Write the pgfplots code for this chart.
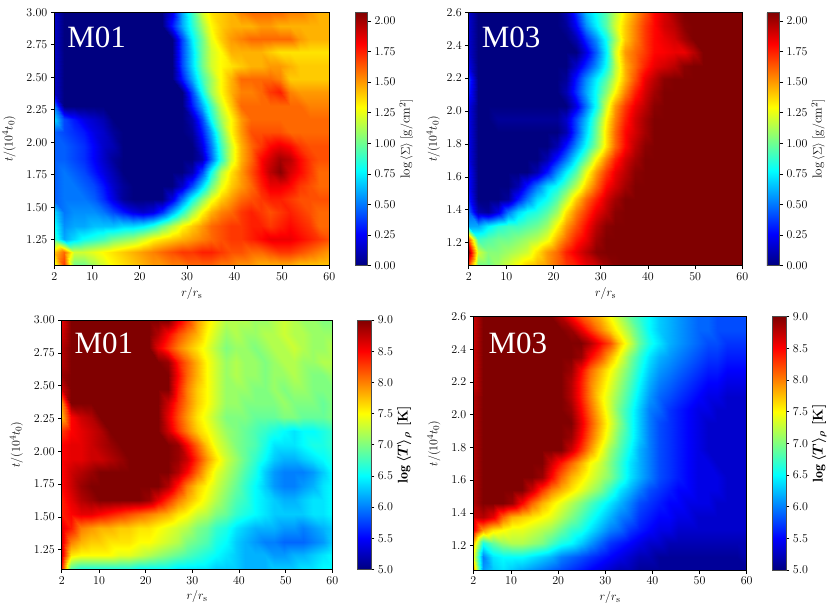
\documentclass[border=0pt]{standalone}
\usepackage{fontspec}
\newfontfamily\tnr{Liberation Serif}
\usepackage{pgfplots}
\pgfplotsset{compat=1.18}
\newcommand\tfont{\fontsize{13}{15}\selectfont}
\tikzset{lab/.style={anchor=base west, inner sep=0pt, text=white, font=\tnr\fontsize{31}{31}\selectfont}}
\pgfplotsset{
  hm/.style={
    scale only axis, enlargelimits=false, axis on top,
    anchor=north west,
    xmin=2, xmax=60, xtick={2,10,20,30,40,50,60},
    tick align=outside, tick pos=left,
    major tick length=3.5pt,
    tick style={black, line width=0.6pt},
    axis line style={line width=0.6pt},
    tick label style={font=\tfont},
    label style={font=\tfont},
    xlabel={$r/r_\mathrm{s}$},
    ylabel={$t/(10^4t_0)$},
    colormap/jet,
    colorbar,
    colorbar style={scale only axis, at={(parent axis.north east)}, anchor=north west,
      tick align=outside, ytick pos=right, major tick length=3.5pt,
      tick style={black, line width=0.6pt},
      axis line style={line width=0.5pt, black!70},
      ylabel shift=-3pt,
      yticklabel style={font=\tfont}},
  },
  sig/.style={point meta min=0, point meta max=2.07,
    colorbar style={ytick={0,0.25,0.5,0.75,1,1.25,1.5,1.75,2},
      yticklabel style={/pgf/number format/.cd, fixed, fixed zerofill, precision=2},
      ylabel={$\log\,\langle\Sigma\rangle\;[\mathrm{g/cm^2}]$},
      ylabel style={font=\tfont}}},
  tem/.style={point meta min=5, point meta max=9,
    colorbar style={ytick={5,5.5,6,6.5,7,7.5,8,8.5,9},
      yticklabel style={/pgf/number format/.cd, fixed, fixed zerofill, precision=1},
      ylabel={$\log\,\langle T\rangle_\rho$ [K]},
      ylabel style={font=\fontsize{14}{16}\selectfont\bfseries\boldmath}}},
}
\begin{document}
\begin{tikzpicture}
\useasboundingbox (0,0) rectangle (830pt,614pt);
% ---------- top left: M01 Sigma
\begin{axis}[hm, sig, at={(54.3pt,601.7pt)}, width=275pt, height=253.4pt,
  ymin=1.05, ymax=3, ytick={1.25,1.5,1.75,2,2.25,2.5,2.75,3}, ylabel shift=4pt,
  yticklabel style={/pgf/number format/.cd, fixed, fixed zerofill, precision=2},
  colorbar style={width=12.3pt, xshift=17.4pt}]
\addplot[surf, shader=interp, mesh/cols=29, point meta=explicit] table[row sep=\\, header=false,
  x expr={2+58/28*mod(\coordindex,29)}, y expr={1.05+1.95/19*floor((\coordindex+0.5)/29)}, meta index=0] {
1.2\\1.7\\1.0\\1.0\\1.1\\1.2\\1.3\\1.35\\1.4\\1.45\\1.5\\1.5\\1.55\\1.55\\1.6\\1.6\\1.6\\1.55\\1.55\\1.5\\1.5\\1.45\\1.45\\1.45\\1.45\\1.4\\1.4\\1.4\\1.4\\
1.4\\1.6\\1.2\\1.2\\1.25\\1.3\\1.35\\1.4\\1.45\\1.5\\1.55\\1.6\\1.65\\1.7\\1.7\\1.75\\1.75\\1.7\\1.65\\1.65\\1.6\\1.6\\1.65\\1.7\\1.7\\1.65\\1.6\\1.55\\1.5\\
0.9\\0.6\\0.7\\0.8\\0.85\\0.9\\1.0\\1.05\\1.1\\1.2\\1.3\\1.35\\1.4\\1.45\\1.5\\1.55\\1.6\\1.65\\1.7\\1.7\\1.75\\1.8\\1.85\\1.85\\1.85\\1.8\\1.75\\1.7\\1.65\\
0.8\\0.55\\0.6\\0.6\\0.65\\0.65\\0.65\\0.7\\0.7\\0.75\\0.85\\1.0\\1.15\\1.3\\1.4\\1.5\\1.6\\1.65\\1.7\\1.7\\1.75\\1.75\\1.7\\1.75\\1.8\\1.75\\1.7\\1.6\\1.6\\
0.7\\0.5\\0.55\\0.55\\0.55\\0.5\\0.4\\0.3\\0.2\\0.15\\0.2\\0.35\\0.6\\0.85\\1.1\\1.3\\1.45\\1.55\\1.6\\1.7\\1.75\\1.7\\1.65\\1.7\\1.75\\1.7\\1.65\\1.6\\1.6\\
0.45\\0.5\\0.5\\0.5\\0.45\\0.35\\0.2\\0.05\\0\\0\\0\\0\\0.2\\0.5\\0.8\\1.05\\1.25\\1.4\\1.5\\1.6\\1.65\\1.7\\1.75\\1.75\\1.7\\1.65\\1.65\\1.65\\1.65\\
0.45\\0.5\\0.5\\0.45\\0.4\\0.3\\0.15\\0.05\\0\\0\\0\\0\\0\\0.15\\0.4\\0.7\\1.0\\1.25\\1.4\\1.5\\1.6\\1.75\\1.85\\1.85\\1.8\\1.7\\1.65\\1.6\\1.6\\
0.45\\0.5\\0.45\\0.4\\0.3\\0.2\\0.1\\0\\0\\0\\0\\0\\0\\0\\0.1\\0.4\\0.8\\1.15\\1.35\\1.5\\1.65\\1.8\\1.95\\2.05\\1.9\\1.8\\1.7\\1.6\\1.6\\
0.45\\0.45\\0.4\\0.35\\0.25\\0.15\\0.05\\0\\0\\0\\0\\0\\0\\0\\0\\0.1\\0.45\\0.85\\1.2\\1.45\\1.6\\1.8\\1.9\\2.0\\1.95\\1.8\\1.7\\1.65\\1.65\\
0.45\\0.45\\0.4\\0.35\\0.25\\0.15\\0.1\\0\\0\\0\\0\\0\\0\\0\\0\\0.2\\0.5\\0.9\\1.2\\1.45\\1.6\\1.7\\1.8\\1.85\\1.8\\1.7\\1.65\\1.65\\1.65\\
0.45\\0.4\\0.35\\0.3\\0.2\\0.15\\0.05\\0\\0\\0\\0\\0\\0\\0\\0.05\\0.3\\0.6\\1.0\\1.3\\1.5\\1.65\\1.65\\1.65\\1.65\\1.6\\1.6\\1.6\\1.6\\1.6\\
0.7\\0.4\\0.3\\0.2\\0.15\\0.1\\0\\0\\0\\0\\0\\0\\0\\0\\0.1\\0.4\\0.8\\1.1\\1.3\\1.5\\1.6\\1.6\\1.6\\1.6\\1.6\\1.6\\1.6\\1.6\\1.6\\
0.5\\0\\0\\0\\0\\0\\0\\0\\0\\0\\0\\0\\0\\0\\0.3\\0.6\\0.9\\1.2\\1.4\\1.6\\1.6\\1.6\\1.6\\1.6\\1.6\\1.6\\1.55\\1.55\\1.55\\
0.15\\0\\0\\0\\0\\0\\0\\0\\0\\0\\0\\0\\0\\0\\0.4\\0.8\\1.1\\1.3\\1.45\\1.55\\1.55\\1.6\\1.7\\1.75\\1.55\\1.5\\1.5\\1.5\\1.5\\
0.15\\0\\0\\0\\0\\0\\0\\0\\0\\0\\0\\0\\0\\0.3\\0.6\\0.9\\1.1\\1.3\\1.45\\1.6\\1.6\\1.6\\1.6\\1.55\\1.4\\1.4\\1.4\\1.4\\1.4\\
0.15\\0\\0\\0\\0\\0\\0\\0\\0\\0\\0\\0\\0\\0.4\\0.7\\1.0\\1.2\\1.3\\1.35\\1.4\\1.45\\1.45\\1.5\\1.5\\1.45\\1.4\\1.4\\1.4\\1.4\\
0.15\\0\\0\\0\\0\\0\\0\\0\\0\\0\\0\\0\\0\\0.4\\0.7\\1.0\\1.2\\1.3\\1.45\\1.45\\1.45\\1.45\\1.4\\1.35\\1.35\\1.35\\1.35\\1.35\\1.35\\
0.15\\0\\0\\0\\0\\0\\0\\0\\0\\0\\0\\0\\0\\0.4\\0.75\\1.0\\1.25\\1.4\\1.5\\1.55\\1.6\\1.6\\1.6\\1.6\\1.6\\1.5\\1.45\\1.45\\1.45\\
0.15\\0\\0\\0\\0\\0\\0\\0\\0\\0\\0\\0\\0.3\\0.6\\0.85\\1.1\\1.3\\1.4\\1.45\\1.45\\1.45\\1.5\\1.5\\1.45\\1.45\\1.45\\1.45\\1.45\\1.45\\
0.15\\0\\0\\0\\0\\0\\0\\0\\0\\0\\0\\0\\0.2\\0.6\\0.9\\1.2\\1.35\\1.4\\1.45\\1.55\\1.6\\1.6\\1.6\\1.6\\1.55\\1.55\\1.5\\1.45\\1.45\\
};
\node[lab] at (rel axis cs:0.047,0.862) {M01};
\end{axis}
% ---------- top right: M03 Sigma
\begin{axis}[hm, sig, at={(468.7pt,601.7pt)}, width=273.6pt, height=253.4pt,
  ymin=1.06, ymax=2.6, ytick={1.2,1.4,1.6,1.8,2,2.2,2.4,2.6},
  yticklabel style={/pgf/number format/.cd, fixed, fixed zerofill, precision=1},
  colorbar style={width=12.7pt, xshift=16pt}]
\addplot[surf, shader=interp, mesh/cols=29, point meta=explicit] table[row sep=\\, header=false,
  x expr={2+58/28*mod(\coordindex,29)}, y expr={1.06+1.54/19*floor((\coordindex+0.5)/29)}, meta index=0] {
1.6\\1.0\\1.0\\1.1\\1.2\\1.3\\1.4\\1.45\\1.5\\1.6\\1.7\\1.75\\1.85\\1.9\\2.0\\2.05\\2.1\\2.1\\2.1\\2.1\\2.1\\2.1\\2.1\\2.1\\2.1\\2.1\\2.1\\2.1\\2.1\\
2.0\\1.2\\1.05\\1.05\\1.1\\1.15\\1.2\\1.35\\1.5\\1.6\\1.75\\1.85\\1.95\\2.05\\2.1\\2.1\\2.1\\2.1\\2.1\\2.1\\2.1\\2.1\\2.1\\2.1\\2.1\\2.1\\2.1\\2.1\\2.1\\
1.6\\0.9\\0.95\\1.0\\1.0\\1.05\\1.1\\1.15\\1.25\\1.45\\1.6\\1.75\\1.85\\2.0\\2.1\\2.1\\2.1\\2.1\\2.1\\2.1\\2.1\\2.1\\2.1\\2.1\\2.1\\2.1\\2.1\\2.1\\2.1\\
0.6\\0.6\\0.75\\0.85\\0.9\\0.9\\0.95\\1.0\\1.1\\1.3\\1.5\\1.65\\1.8\\1.95\\2.05\\2.1\\2.1\\2.1\\2.1\\2.1\\2.1\\2.1\\2.1\\2.1\\2.1\\2.1\\2.1\\2.1\\2.1\\
0.45\\0.1\\0.05\\0.2\\0.5\\0.7\\0.8\\0.85\\0.95\\1.1\\1.35\\1.55\\1.7\\1.85\\1.95\\2.05\\2.1\\2.1\\2.1\\2.1\\2.1\\2.1\\2.1\\2.1\\2.1\\2.1\\2.1\\2.1\\2.1\\
0.3\\0\\0\\0\\0.05\\0.3\\0.5\\0.7\\0.8\\0.95\\1.15\\1.4\\1.6\\1.75\\1.9\\2.0\\2.1\\2.1\\2.1\\2.1\\2.1\\2.1\\2.1\\2.1\\2.1\\2.1\\2.1\\2.1\\2.1\\
0.25\\0\\0\\0\\0\\0.1\\0.3\\0.5\\0.7\\0.8\\0.95\\1.15\\1.4\\1.6\\1.8\\1.9\\2.0\\2.1\\2.1\\2.1\\2.1\\2.1\\2.1\\2.1\\2.1\\2.1\\2.1\\2.1\\2.1\\
0.25\\0\\0\\0\\0\\0\\0\\0.1\\0.3\\0.55\\0.75\\0.95\\1.25\\1.5\\1.7\\1.85\\1.95\\2.05\\2.1\\2.1\\2.1\\2.1\\2.1\\2.1\\2.1\\2.1\\2.1\\2.1\\2.1\\
0.2\\0\\0\\0\\0\\0\\0\\0\\0.1\\0.3\\0.5\\0.75\\1.0\\1.3\\1.55\\1.75\\1.9\\2.0\\2.1\\2.1\\2.1\\2.1\\2.1\\2.1\\2.1\\2.1\\2.1\\2.1\\2.1\\
0.2\\0\\0\\0\\0\\0\\0\\0\\0\\0.1\\0.3\\0.55\\0.8\\1.05\\1.35\\1.6\\1.8\\1.95\\2.05\\2.1\\2.1\\2.1\\2.1\\2.1\\2.1\\2.1\\2.1\\2.1\\2.1\\
0.2\\0\\0\\0\\0\\0\\0\\0\\0\\0\\0.1\\0.4\\0.7\\1.0\\1.35\\1.6\\1.8\\1.9\\2.0\\2.1\\2.1\\2.1\\2.1\\2.1\\2.1\\2.1\\2.1\\2.1\\2.1\\
0.2\\0\\0\\0.05\\0.05\\0.05\\0.05\\0.05\\0.05\\0.05\\0.15\\0.4\\0.65\\0.95\\1.3\\1.55\\1.75\\1.9\\2.0\\2.1\\2.1\\2.1\\2.1\\2.1\\2.1\\2.1\\2.1\\2.1\\2.1\\
0.2\\0\\0\\0\\0\\0\\0\\0\\0\\0\\0\\0.2\\0.5\\0.8\\1.2\\1.5\\1.7\\1.85\\1.95\\2.05\\2.1\\2.1\\2.1\\2.1\\2.1\\2.1\\2.1\\2.1\\2.1\\
0.3\\0\\0\\0\\0\\0\\0\\0\\0\\0\\0.1\\0.35\\0.6\\0.8\\1.05\\1.3\\1.55\\1.75\\1.9\\2.0\\2.1\\2.1\\2.1\\2.1\\2.1\\2.1\\2.1\\2.1\\2.1\\
0.35\\0\\0\\0\\0\\0\\0\\0\\0\\0\\0.05\\0.3\\0.55\\0.75\\0.95\\1.2\\1.45\\1.65\\1.85\\1.95\\2.05\\2.1\\2.1\\2.1\\2.1\\2.1\\2.1\\2.1\\2.1\\
0.2\\0\\0\\0\\0\\0\\0\\0\\0\\0\\0\\0.15\\0.35\\0.55\\0.8\\1.15\\1.45\\1.6\\1.75\\1.85\\1.9\\1.95\\2.05\\2.1\\2.1\\2.1\\2.1\\2.1\\2.1\\
0.15\\0\\0\\0\\0\\0\\0\\0\\0\\0\\0\\0\\0.2\\0.45\\0.75\\1.2\\1.5\\1.6\\1.7\\1.8\\1.82\\1.85\\1.85\\1.95\\2.1\\2.1\\2.1\\2.1\\2.1\\
0.15\\0\\0\\0\\0\\0\\0\\0\\0\\0\\0\\0.1\\0.35\\0.55\\0.8\\1.1\\1.4\\1.55\\1.7\\1.8\\1.85\\1.9\\2.0\\2.1\\2.1\\2.1\\2.1\\2.1\\2.1\\
0.15\\0\\0\\0\\0\\0\\0\\0\\0\\0\\0.05\\0.25\\0.55\\0.75\\0.95\\1.2\\1.4\\1.55\\1.7\\1.8\\1.9\\1.95\\2.05\\2.1\\2.1\\2.1\\2.1\\2.1\\2.1\\
0.15\\0\\0\\0\\0\\0\\0\\0\\0\\0\\0.1\\0.35\\0.65\\0.8\\0.95\\1.15\\1.35\\1.5\\1.65\\1.8\\1.9\\2.0\\2.1\\2.1\\2.1\\2.1\\2.1\\2.1\\2.1\\
};
\node[lab] at (rel axis cs:0.047,0.862) {M03};
\end{axis}
% ---------- bottom left: M01 T
\begin{axis}[hm, tem, at={(61.7pt,294pt)}, width=270.6pt, height=249.3pt,
  ymin=1.1, ymax=3, ytick={1.25,1.5,1.75,2,2.25,2.5,2.75,3}, ylabel shift=4pt,
  yticklabel style={/pgf/number format/.cd, fixed, fixed zerofill, precision=2},
  colorbar style={width=13.3pt, xshift=16.7pt}]
\addplot[surf, shader=interp, mesh/cols=29, point meta=explicit] table[row sep=\\, header=false,
  x expr={2+58/28*mod(\coordindex,29)}, y expr={1.1+1.9/18*floor((\coordindex+0.5)/29)}, meta index=0] {
8.3\\6.8\\6.6\\6.6\\6.6\\6.6\\6.6\\6.6\\6.5\\6.5\\6.5\\6.5\\6.4\\6.4\\6.4\\6.4\\6.3\\6.3\\6.3\\6.2\\6.2\\6.2\\6.3\\6.3\\6.3\\6.4\\6.4\\6.5\\6.5\\
8.6\\7.6\\7.5\\7.5\\7.5\\7.5\\7.4\\7.4\\7.3\\7.2\\7.1\\7.0\\6.9\\6.8\\6.7\\6.6\\6.5\\6.4\\6.3\\6.2\\6.2\\6.2\\6.1\\6.1\\6.2\\6.2\\6.3\\6.4\\6.5\\
8.6\\8.0\\7.8\\7.7\\7.7\\7.6\\7.6\\7.6\\7.5\\7.5\\7.4\\7.3\\7.2\\7.0\\6.9\\6.8\\6.6\\6.5\\6.3\\6.2\\6.1\\6.0\\6.0\\5.9\\5.9\\5.9\\6.0\\6.1\\6.3\\
8.6\\8.4\\8.0\\7.9\\7.8\\7.8\\7.7\\7.7\\7.6\\7.6\\7.5\\7.4\\7.3\\7.2\\7.0\\6.9\\6.7\\6.6\\6.4\\6.3\\6.2\\6.2\\6.2\\6.1\\6.1\\6.0\\6.1\\6.2\\6.3\\
8.4\\8.5\\8.6\\8.6\\8.5\\8.4\\8.3\\8.2\\8.1\\8.0\\7.9\\7.8\\7.6\\7.5\\7.3\\7.2\\7.0\\6.9\\6.7\\6.6\\6.5\\6.4\\6.3\\6.3\\6.3\\6.3\\6.4\\6.4\\6.5\\
8.4\\8.6\\8.8\\8.9\\9\\9\\9\\9\\9\\8.9\\8.6\\8.3\\8.0\\7.8\\7.6\\7.4\\7.2\\7.0\\6.8\\6.7\\6.5\\6.4\\6.3\\6.2\\6.2\\6.3\\6.4\\6.4\\6.5\\
8.5\\8.7\\8.9\\9\\9\\9\\9\\9\\9\\9\\9\\8.8\\8.4\\8.0\\7.7\\7.5\\7.3\\7.1\\6.9\\6.7\\6.5\\6.3\\6.1\\6.0\\6.0\\6.1\\6.2\\6.4\\6.5\\
8.5\\8.7\\8.8\\8.9\\9\\9\\9\\9\\9\\9\\9\\9\\8.8\\8.5\\8.1\\7.7\\7.4\\7.2\\7.0\\6.8\\6.6\\6.3\\6.1\\6.0\\6.0\\6.0\\6.1\\6.3\\6.5\\
8.5\\8.6\\8.6\\8.7\\8.7\\8.8\\8.9\\9\\9\\9\\9\\9\\8.9\\8.7\\8.3\\7.9\\7.6\\7.3\\7.1\\6.9\\6.7\\6.5\\6.3\\6.2\\6.2\\6.3\\6.4\\6.5\\6.6\\
8.5\\8.6\\8.6\\8.7\\8.8\\8.9\\9\\9\\9\\9\\9\\9\\8.9\\8.5\\8.1\\7.7\\7.4\\7.2\\7.0\\6.9\\6.8\\6.6\\6.4\\6.4\\6.4\\6.5\\6.6\\6.6\\6.7\\
8.3\\8.5\\8.6\\8.7\\8.8\\9\\9\\9\\9\\9\\9\\8.7\\8.3\\8.0\\7.7\\7.5\\7.3\\7.1\\7.0\\6.9\\6.8\\6.7\\6.6\\6.5\\6.4\\6.5\\6.5\\6.6\\6.7\\
7.8\\8.5\\8.7\\8.8\\9\\9\\9\\9\\9\\9\\9\\8.6\\8.2\\7.9\\7.6\\7.4\\7.2\\7.0\\7.0\\7.0\\6.9\\6.9\\6.9\\7.0\\7.0\\6.9\\6.9\\6.9\\7.0\\
8.0\\9\\9\\9\\9\\9\\9\\9\\9\\9\\9\\8.7\\8.3\\8.0\\7.7\\7.5\\7.3\\7.1\\7.1\\7.0\\7.0\\7.0\\7.0\\7.1\\7.0\\7.0\\7.0\\6.9\\7.0\\
8.7\\9\\9\\9\\9\\9\\9\\9\\9\\9\\9\\9\\8.4\\8.0\\7.7\\7.5\\7.3\\7.1\\7.1\\7.1\\7.0\\7.0\\7.1\\7.0\\7.1\\7.1\\7.0\\7.0\\7.0\\
8.9\\9\\9\\9\\9\\9\\9\\9\\9\\9\\9\\9\\8.5\\8.1\\7.8\\7.5\\7.3\\7.1\\7.2\\7.1\\7.1\\7.0\\7.1\\7.1\\7.2\\7.1\\7.0\\7.0\\7.1\\
8.8\\9\\9\\9\\9\\9\\9\\9\\9\\9\\9\\8.9\\8.4\\8.1\\7.8\\7.5\\7.3\\7.1\\7.2\\7.1\\7.1\\7.0\\7.1\\7.2\\7.2\\7.1\\7.1\\7.2\\7.2\\
8.8\\9\\9\\9\\9\\9\\9\\9\\9\\9\\8.6\\8.3\\8.0\\7.8\\7.6\\7.4\\7.2\\7.0\\7.1\\7.1\\7.0\\7.1\\7.2\\7.2\\7.3\\7.2\\7.1\\7.1\\7.2\\
8.7\\9\\9\\9\\9\\9\\9\\9\\9\\9\\8.8\\8.5\\8.2\\8.0\\7.8\\7.5\\7.3\\7.1\\7.2\\7.1\\7.1\\7.2\\7.2\\7.3\\7.2\\7.2\\7.1\\7.1\\7.1\\
8.6\\9\\9\\9\\9\\9\\9\\9\\9\\9\\9\\9\\8.6\\8.3\\7.9\\7.6\\7.4\\7.2\\7.2\\7.2\\7.1\\7.1\\7.2\\7.3\\7.2\\7.1\\7.1\\7.0\\7.0\\
};
\node[lab] at (rel axis cs:0.047,0.866) {M01};
\end{axis}
% ---------- bottom right: M03 T
\begin{axis}[hm, tem, at={(473.3pt,297.3pt)}, width=273.4pt, height=253.3pt,
  ymin=1.05, ymax=2.6, ytick={1.2,1.4,1.6,1.8,2,2.2,2.4,2.6}, ylabel shift=4pt,
  yticklabel style={/pgf/number format/.cd, fixed, fixed zerofill, precision=1},
  colorbar style={width=13.3pt, xshift=17.3pt}]
\addplot[surf, shader=interp, mesh/cols=29, point meta=explicit] table[row sep=\\, header=false,
  x expr={2+58/28*mod(\coordindex,29)}, y expr={1.05+1.55/19*floor((\coordindex+0.5)/29)}, meta index=0] {
8.0\\6.1\\6.3\\6.4\\6.3\\6.2\\6.1\\6.0\\5.9\\5.8\\5.7\\5.6\\5.5\\5.4\\5.3\\5.2\\5.2\\5.1\\5.1\\5.1\\5.1\\5.1\\5.1\\5.1\\5.1\\5.1\\5.1\\5.1\\5.1\\
7.5\\6.0\\6.4\\6.5\\6.5\\6.5\\6.4\\6.3\\6.2\\6.0\\5.9\\5.8\\5.7\\5.6\\5.5\\5.4\\5.3\\5.2\\5.2\\5.1\\5.1\\5.1\\5.1\\5.1\\5.1\\5.1\\5.1\\5.1\\5.2\\
7.8\\6.6\\6.9\\7.1\\7.2\\7.2\\7.1\\7.0\\6.8\\6.6\\6.5\\6.3\\6.1\\5.9\\5.7\\5.6\\5.5\\5.4\\5.3\\5.3\\5.2\\5.2\\5.2\\5.2\\5.2\\5.2\\5.2\\5.2\\5.2\\
8.6\\7.9\\7.6\\7.5\\7.4\\7.4\\7.3\\7.2\\7.1\\6.9\\6.7\\6.6\\6.4\\6.2\\6.0\\5.9\\5.7\\5.6\\5.5\\5.4\\5.4\\5.3\\5.3\\5.3\\5.3\\5.3\\5.3\\5.3\\5.3\\
8.7\\8.8\\8.6\\8.1\\7.8\\7.7\\7.6\\7.5\\7.4\\7.2\\7.0\\6.8\\6.6\\6.4\\6.2\\6.0\\5.9\\5.7\\5.6\\5.5\\5.5\\5.4\\5.4\\5.3\\5.3\\5.3\\5.3\\5.3\\5.3\\
8.8\\9\\9\\9\\8.9\\8.5\\8.1\\7.8\\7.6\\7.4\\7.2\\7.0\\6.8\\6.6\\6.4\\6.2\\6.0\\5.8\\5.7\\5.6\\5.5\\5.5\\5.4\\5.4\\5.4\\5.3\\5.3\\5.3\\5.3\\
8.8\\9\\9\\9\\9\\9\\8.7\\8.3\\8.0\\7.8\\7.6\\7.4\\7.2\\7.0\\6.7\\6.4\\6.2\\6.0\\5.8\\5.7\\5.6\\5.5\\5.5\\5.4\\5.4\\5.4\\5.3\\5.3\\5.3\\
8.8\\9\\9\\9\\9\\9\\9\\8.9\\8.5\\8.1\\7.8\\7.6\\7.4\\7.2\\7.0\\6.7\\6.4\\6.2\\6.0\\5.8\\5.7\\5.6\\5.5\\5.4\\5.4\\5.4\\5.3\\5.3\\5.3\\
8.8\\9\\9\\9\\9\\9\\9\\9\\8.7\\8.4\\8.1\\7.8\\7.5\\7.3\\7.0\\6.7\\6.4\\6.2\\6.0\\5.8\\5.7\\5.6\\5.5\\5.4\\5.4\\5.3\\5.3\\5.3\\5.3\\
8.8\\9\\9\\9\\9\\9\\9\\9\\9\\9\\8.7\\8.3\\7.9\\7.5\\7.1\\6.8\\6.5\\6.2\\6.0\\5.8\\5.7\\5.6\\5.5\\5.4\\5.3\\5.3\\5.3\\5.3\\5.3\\
8.8\\9\\9\\9\\9\\9\\9\\9\\9\\9\\8.9\\8.5\\8.1\\7.7\\7.3\\6.9\\6.6\\6.3\\6.0\\5.8\\5.7\\5.6\\5.5\\5.4\\5.3\\5.3\\5.3\\5.3\\5.3\\
8.8\\9\\9\\9\\9\\9\\9\\9\\9\\9\\9\\8.6\\8.2\\7.8\\7.4\\7.0\\6.6\\6.3\\6.0\\5.8\\5.7\\5.6\\5.5\\5.4\\5.3\\5.3\\5.3\\5.3\\5.3\\
8.8\\9\\9\\9\\9\\9\\9\\9\\9\\9\\8.9\\8.5\\8.1\\7.7\\7.3\\6.9\\6.6\\6.3\\6.0\\5.9\\5.7\\5.6\\5.5\\5.4\\5.4\\5.3\\5.3\\5.3\\5.3\\
8.8\\9\\9\\9\\9\\9\\9\\9\\9\\9\\8.8\\8.4\\8.0\\7.6\\7.3\\7.0\\6.7\\6.4\\6.1\\5.9\\5.8\\5.7\\5.6\\5.5\\5.4\\5.4\\5.3\\5.3\\5.3\\
8.7\\9\\9\\9\\9\\9\\9\\9\\9\\9\\8.8\\8.4\\8.0\\7.7\\7.4\\7.1\\6.8\\6.5\\6.2\\6.0\\5.9\\5.8\\5.7\\5.6\\5.5\\5.5\\5.4\\5.4\\5.4\\
8.7\\9\\9\\9\\9\\9\\9\\9\\9\\9\\8.9\\8.5\\8.1\\7.8\\7.5\\7.2\\6.9\\6.6\\6.3\\6.1\\6.0\\5.9\\5.8\\5.7\\5.6\\5.6\\5.5\\5.5\\5.5\\
8.7\\9\\9\\9\\9\\9\\9\\9\\9\\9\\9\\8.9\\8.5\\8.2\\7.8\\7.4\\7.0\\6.7\\6.4\\6.2\\6.1\\6.0\\5.9\\5.8\\5.7\\5.7\\5.6\\5.6\\5.6\\
8.7\\9\\9\\9\\9\\9\\9\\9\\9\\9\\9\\9\\8.8\\8.5\\8.2\\7.7\\7.3\\6.9\\6.6\\6.4\\6.2\\6.1\\6.0\\5.9\\5.8\\5.8\\5.7\\5.7\\5.7\\
8.7\\9\\9\\9\\9\\9\\9\\9\\9\\9\\8.9\\8.6\\8.3\\8.0\\7.7\\7.4\\7.1\\6.8\\6.5\\6.3\\6.2\\6.1\\6.0\\5.9\\5.9\\5.8\\5.8\\5.8\\5.8\\
8.7\\9\\9\\9\\9\\9\\9\\9\\9\\8.8\\8.5\\8.2\\8.0\\7.8\\7.5\\7.2\\6.9\\6.7\\6.5\\6.3\\6.2\\6.1\\6.0\\5.9\\5.9\\5.8\\5.8\\5.8\\5.8\\
};
\node[lab] at (rel axis cs:0.055,0.855) {M03};
\end{axis}
\end{tikzpicture}
\end{document}
